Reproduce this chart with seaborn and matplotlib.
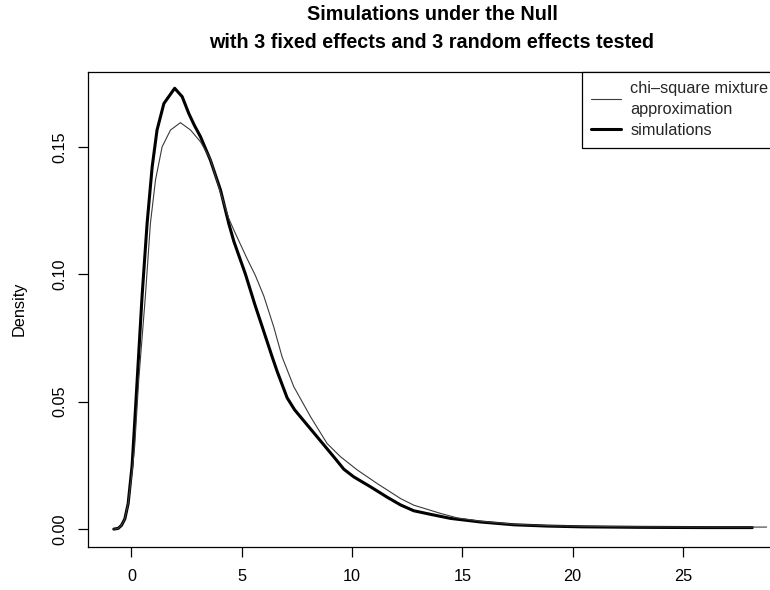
import matplotlib
matplotlib.use("Agg")
import matplotlib.pyplot as plt
from matplotlib.lines import Line2D
import seaborn as sns
import pandas as pd

# ---- data ----
sim_x = [-0.80, -0.60, -0.45, -0.30, -0.15, 0.03, 0.10, 0.26, 0.48, 0.71, 0.94, 1.16,
         1.47, 1.96, 2.30, 2.60, 2.85, 3.13, 3.58, 4.04, 4.41, 4.64, 5.17, 5.60, 5.93,
         6.38, 6.61, 7.06, 7.40, 7.66, 8.42, 9.17, 9.63, 10.08, 10.84, 11.60, 12.20,
         12.80, 13.56, 14.47, 15.83, 17.34, 18.85, 20.40, 23.00, 26.00, 28.15]
sim_y = [0.0000, 0.0003, 0.0015, 0.0040, 0.0100, 0.0250, 0.0350, 0.0585, 0.0912, 0.1200,
         0.1422, 0.1566, 0.1670, 0.1730, 0.1697, 0.1631, 0.1585, 0.1540, 0.1448, 0.1330,
         0.1200, 0.1130, 0.1000, 0.0880, 0.0794, 0.0676, 0.0618, 0.0515, 0.0468, 0.0441,
         0.0362, 0.0284, 0.0235, 0.0205, 0.0166, 0.0125, 0.0095, 0.0072, 0.0058, 0.0042,
         0.0028, 0.0017, 0.0012, 0.0009, 0.0007, 0.0006, 0.0006]

mix_x = [-0.80, -0.60, -0.45, -0.30, -0.15, 0.05, 0.15, 0.33, 0.63, 0.86, 1.09, 1.39,
         1.77, 2.22, 2.68, 3.13, 3.58, 4.04, 4.41, 4.64, 5.25, 5.62, 6.00, 6.45, 6.83,
         7.36, 8.12, 8.87, 9.48, 10.24, 11.14, 12.20, 12.80, 14.00, 14.77, 15.83, 17.34,
         18.85, 20.40, 23.00, 26.00, 28.80]
mix_y = [0.0000, 0.0003, 0.0015, 0.0040, 0.0100, 0.0240, 0.0330, 0.0585, 0.0912, 0.1200,
         0.1370, 0.1500, 0.1566, 0.1595, 0.1566, 0.1520, 0.1452, 0.1320, 0.1220, 0.1174,
         0.1060, 0.0995, 0.0915, 0.0794, 0.0676, 0.0559, 0.0441, 0.0336, 0.0284, 0.0232,
         0.0179, 0.0120, 0.0094, 0.0062, 0.0044, 0.0031, 0.0019, 0.0014, 0.0011, 0.0009,
         0.0008, 0.0008]

x_ticks = [0, 5, 10, 15, 20, 25]
y_ticks = [0.00, 0.05, 0.10, 0.15]
y_tick_labels = ["0.00", "0.05", "0.10", "0.15"]

title_line1 = "Simulations under the Null"
title_line2 = "with 3 fixed effects and 3 random effects tested"
legend_labels = ["chi\u2013square mixture\napproximation", "simulations"]

# ---- style ----
sns.set_theme(style="ticks")
plt.rcParams["font.family"] = ["Liberation Sans", "DejaVu Sans"]

W, H = 770, 590
fig = plt.figure(figsize=(W / 100, H / 100), dpi=100)
ax_l, ax_r, ax_t, ax_b = 88, 792, 71.7, 546.7
ax = fig.add_axes([ax_l / W, 1 - ax_b / H, (ax_r - ax_l) / W, (ax_b - ax_t) / H])

df_sim = pd.DataFrame({"x": sim_x, "y": sim_y})
df_mix = pd.DataFrame({"x": mix_x, "y": mix_y})

sns.lineplot(data=df_sim, x="x", y="y", ax=ax, color="black", linewidth=2.2,
             sort=False, estimator=None)
sns.lineplot(data=df_mix, x="x", y="y", ax=ax, color="#3a3a3a", linewidth=0.8,
             sort=False, estimator=None)

ax.set_xlim(-1.97, 29.95)
ax.set_ylim(-0.0069, 0.1795)

for s in ["top", "left", "bottom", "right"]:
    ax.spines[s].set_color("black")
    ax.spines[s].set_linewidth(0.9)

ax.set_xticks(x_ticks)
ax.set_xticklabels([str(t) for t in x_ticks])
ax.set_yticks(y_ticks)
ax.set_yticklabels(y_tick_labels, rotation=90, va="center")
ax.tick_params(axis="both", direction="out", length=7, width=0.9, color="black",
               labelsize=11.7, labelcolor="black")
ax.tick_params(axis="x", pad=9)
ax.tick_params(axis="y", pad=8)

ax.set_xlabel("")
ax.set_ylabel("Density", fontsize=11.7, color="black")
ax.yaxis.set_label_coords((27 - ax_l) / (ax_r - ax_l), 0.5)

# title
tx = 432 / W
fig.text(tx, 1 - 15 / H, title_line1, ha="center", va="center",
         fontsize=14.2, fontweight="bold", color="black")
fig.text(tx, 1 - 42 / H, title_line2, ha="center", va="center",
         fontsize=14.2, fontweight="bold", color="black")

# legend
handles = [Line2D([], [], color="#3a3a3a", linewidth=0.8),
           Line2D([], [], color="black", linewidth=2.2)]
leg = fig.legend(handles, legend_labels, loc="upper left",
                 bbox_to_anchor=(581.7 / W, 1 - ax_t / H),
                 frameon=True, fancybox=False, shadow=False,
                 fontsize=11.7, handlelength=1.8, handletextpad=0.6,
                 borderpad=0.6, labelspacing=0.38, borderaxespad=0)
leg.get_texts()[0].set_linespacing(1.45)
leg.get_frame().set_edgecolor("black")
leg.get_frame().set_linewidth(0.9)
leg.get_frame().set_facecolor("white")
leg.get_frame().set_alpha(1)

fig.savefig("out.png", dpi=100)
